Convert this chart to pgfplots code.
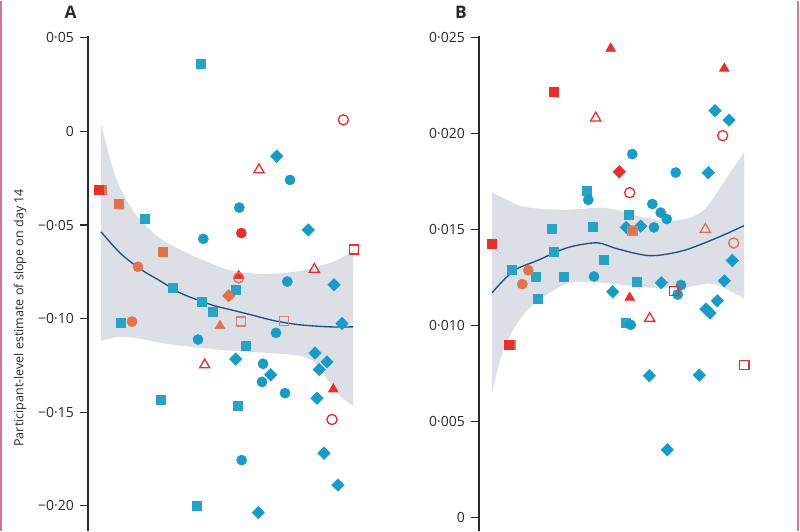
\documentclass[border=0pt]{standalone}
\usepackage{pgfplots}
\pgfplotsset{compat=1.18}
\usepgfplotslibrary{fillbetween}
\usepackage{fontspec}
\setmainfont{Open Sans}
\definecolor{teal}{HTML}{1A9BC6}
\definecolor{tealsq}{HTML}{27A3C3}
\definecolor{redm}{HTML}{E5302B}
\definecolor{salmon}{HTML}{E2714F}
\definecolor{palesal}{HTML}{CF8676}
\definecolor{bandgrey}{HTML}{DCE0E6}
\definecolor{linenavy}{HTML}{1F4F8F}
\definecolor{pinkb}{HTML}{C47A98}
\definecolor{axcol}{HTML}{2A2A2A}
\pgfplotsset{
  panel/.style={
    scale only axis, anchor=south west,
    axis y line*=left, hide x axis,
    tick align=outside, major tick length=6pt,
    ytick pos=left, scaled y ticks=false,
    axis line style={line width=1pt, axcol},
    ytick style={line width=0.9pt, axcol},
    yticklabel style={font=\fontsize{10.5}{12}\selectfont, text=axcol, xshift=-1pt},
    clip=false,
  },
  tsq/.style={only marks, mark=square*, mark size=3.4pt, mark options={fill=tealsq, draw=tealsq}},
  tci/.style={only marks, mark=*, mark size=3.8pt, mark options={fill=teal, draw=teal}},
  tdi/.style={only marks, mark=square*, mark size=3.3pt, mark options={fill=teal, draw=teal, rotate=45}},
  rci/.style={only marks, mark=*, mark size=3.8pt, mark options={fill=redm, draw=redm}},
  rocirc/.style={only marks, mark=o, mark size=3.8pt, mark options={draw=redm, line width=1pt}},
  rotri/.style={only marks, mark=triangle, mark size=4.4pt, mark options={draw=redm, line width=1pt}},
  rtri/.style={only marks, mark=triangle*, mark size=4.2pt, mark options={fill=redm, draw=redm}},
  rosq/.style={only marks, mark=square, mark size=3.4pt, mark options={draw=redm, line width=1pt}},
  rsq/.style={only marks, mark=square*, mark size=3.4pt, mark options={fill=redm, draw=redm}},
  rdi/.style={only marks, mark=square*, mark size=3.3pt, mark options={fill=redm, draw=redm, rotate=45}},
  ssq/.style={only marks, mark=square*, mark size=3.4pt, mark options={fill=salmon, draw=salmon}},
  sci/.style={only marks, mark=*, mark size=3.8pt, mark options={fill=salmon, draw=salmon}},
  socirc/.style={only marks, mark=o, mark size=3.8pt, mark options={draw=salmon, line width=1pt}},
  sdi/.style={only marks, mark=square*, mark size=3.3pt, mark options={fill=salmon, draw=salmon, rotate=45}},
  stri/.style={only marks, mark=triangle*, mark size=4.2pt, mark options={fill=salmon, draw=salmon}},
  sotri/.style={only marks, mark=triangle, mark size=4.4pt, mark options={draw=salmon, line width=1pt}},
  posq/.style={only marks, mark=square, mark size=3.4pt, mark options={draw=palesal, line width=1pt}},
}
\begin{document}
\begin{tikzpicture}
\path (0,0) rectangle (600pt,397.5pt);
\draw[pinkb, line width=1.2pt] (0.6pt,0) -- (0.6pt,397.5pt);
\draw[pinkb, line width=1.2pt] (598.6pt,0) -- (598.6pt,397.5pt);
\node[font=\fontsize{13}{15}\selectfont\bfseries, text=axcol] at (52.9pt,389pt) {A};
\node[font=\fontsize{13}{15}\selectfont\bfseries, text=axcol] at (345.8pt,389pt) {B};
\node[rotate=90, font=\fontsize{9.4}{11}\selectfont, text=axcol] at (15pt,159.75pt) {Participant-level estimate of slope on day 14};

% ---------------- Panel A ----------------
\begin{axis}[panel, at={(66pt,0pt)}, width=204pt, height=371.25pt,
  xmin=0, xmax=272, ymin=-0.21335, ymax=0.0511,
  ytick={-0.2,-0.15,-0.1,-0.05,0,0.05},
  yticklabels={−0·20,−0·15,−0·10,−0·05,0,0·05}]
\addplot[name path=Aup, draw=none, smooth] coordinates {
 (13,0.0041) (20,-0.0104) (29,-0.0264) (45,-0.0424) (62,-0.0526) (79,-0.0595)
 (112,-0.0681) (145,-0.0745) (179,-0.0761) (212,-0.0745) (242,-0.0702) (257,-0.0665) (265,-0.0638)};
\addplot[name path=Alo, draw=none, smooth] coordinates {
 (13,-0.1119) (32,-0.1097) (52,-0.1108) (79,-0.1135) (112,-0.1156) (145,-0.1172)
 (179,-0.1183) (212,-0.1199) (227,-0.1236) (239,-0.1322) (252,-0.1412) (265,-0.1466)};
\addplot[bandgrey] fill between[of=Aup and Alo];
% teal squares
\addplot[tsq] coordinates {(113,0.0360) (56.3,-0.0468) (85,-0.0834) (148,-0.0846) (113.7,-0.0909)
 (124.7,-0.0964) (32.7,-0.1021) (157.7,-0.1144) (72.7,-0.1434) (150,-0.1466) (108.3,-0.2002)};
% teal circles
\addplot[tci] coordinates {(202,-0.0259) (151.3,-0.0407) (115.3,-0.0574) (199.3,-0.0802) (110,-0.1112)
 (188,-0.1076) (175,-0.1241) (174,-0.1338) (197,-0.1398) (153.7,-0.1756)};
% teal diamonds
\addplot[tdi] coordinates {(188.7,-0.0132) (220.3,-0.0526) (246,-0.0819) (254,-0.1026) (227,-0.1184)
 (239,-0.1231) (231.3,-0.1272) (147.7,-0.1216) (182.7,-0.1300) (229,-0.1425) (236,-0.1719)
 (250,-0.1889) (170.3,-0.2036)};
% salmon
\addplot[ssq] coordinates {(14,-0.0314) (31,-0.0388) (75,-0.0643)};
\addplot[rsq] coordinates {(10.5,-0.0314)};
\addplot[sci] coordinates {(50,-0.0723) (44,-0.1016)};
\addplot[sdi] coordinates {(140.7,-0.0878)};
\addplot[stri] coordinates {(132,-0.1038)};
\addplot[posq] coordinates {(153,-0.1016) (195.7,-0.1012)};
% red
\addplot[rci] coordinates {(153.3,-0.0543)};
\addplot[rtri] coordinates {(150.7,-0.0771) (245.3,-0.1377)};
\addplot[socirc] coordinates {(150.7,-0.0782)};
\addplot[rocirc] coordinates {(255.3,0.0062) (244,-0.1539)};
\addplot[rotri] coordinates {(171,-0.0205) (226.3,-0.0737) (116.7,-0.1247)};
\addplot[rosq] coordinates {(266,-0.0631)};
% fitted line
\addplot[linenavy, line width=1pt, smooth] coordinates {
 (13,-0.0536) (32,-0.0649) (52,-0.0734) (72,-0.0798) (92,-0.0862) (112,-0.0905) (127,-0.0932)
 (147,-0.0958) (167,-0.0985) (187,-0.1012) (212,-0.1033) (242,-0.1044) (265,-0.1044)};
\end{axis}

% ---------------- Panel B ----------------
\begin{axis}[panel, at={(359.25pt,0pt)}, width=214.5pt, height=371.25pt,
  xmin=0, xmax=286, ymin=-0.000677, ymax=0.0251,
  ytick={0,0.005,0.01,0.015,0.02,0.025},
  yticklabels={0,0·005,0·010,0·015,0·020,0·025}]
\addplot[name path=Bup, draw=none, smooth] coordinates {
 (13,0.01693) (26,0.01661) (41,0.01625) (61,0.01609) (88,0.01604) (121,0.01615) (141,0.01599)
 (161,0.01568) (188,0.01547) (211,0.01563) (226,0.01609) (238,0.01693) (251,0.01797) (265,0.01901)};
\addplot[name path=Blo, draw=none, smooth] coordinates {
 (13,0.00651) (21,0.00818) (31,0.00948) (46,0.01068) (66,0.01156) (88,0.01219) (111,0.01229)
 (141,0.01214) (171,0.01198) (204,0.01198) (231,0.01219) (251,0.01182) (265,0.01141)};
\addplot[bandgrey] fill between[of=Bup and Blo];
% teal squares
\addplot[tsq] coordinates {(107.7,0.01703) (149.7,0.01578) (72.7,0.01504) (113.3,0.01514) (75,0.01384)
 (124.3,0.01344) (32.7,0.01293) (56.3,0.01255) (84.7,0.01255) (157.3,0.01229) (58.7,0.01139) (147,0.01014)};
% teal circles
\addplot[tci] coordinates {(153.3,0.01894) (196.7,0.01798) (109.3,0.01656) (173.3,0.01634) (181.7,0.01589)
 (187.7,0.01556) (175,0.01512) (115,0.01257) (202,0.01212) (198.7,0.01163) (151.7,0.01005)};
% teal diamonds
\addplot[tdi] coordinates {(236,0.02120) (250,0.02071) (229.3,0.01797) (147.3,0.01512) (161.7,0.01519)
 (253.3,0.01340) (133.7,0.01177) (182.3,0.01224) (245.3,0.01234) (238.3,0.01130) (227,0.01087)
 (231,0.01066) (170.3,0.00740) (220.3,0.00743) (188.3,0.00354)};
% salmon
\addplot[ssq] coordinates {(32,0.00900)};
\addplot[sci] coordinates {(49.3,0.01289) (43.3,0.01217) (153.3,0.01495)};
\addplot[posq] coordinates {(153.3,0.01495)};
\addplot[sotri] coordinates {(226.3,0.01502)};
\addplot[socirc] coordinates {(254.7,0.01431)};
% red
\addplot[rsq] coordinates {(74.7,0.02220) (12.7,0.01426) (30,0.00903)};
\addplot[rtri] coordinates {(131.7,0.02444) (245.3,0.02340) (150.7,0.01147)};
\addplot[rotri] coordinates {(116.7,0.02082) (170.7,0.01038)};
\addplot[rocirc] coordinates {(243.7,0.01990) (150.7,0.01693)};
\addplot[rdi] coordinates {(140.3,0.01802)};
\addplot[rosq] coordinates {(195,0.01181) (265.3,0.00795)};
% fitted line
\addplot[linenavy, line width=1pt, smooth] coordinates {
 (13,0.01172) (26,0.01245) (38,0.01297) (58,0.01339) (88,0.01406) (118,0.01432) (138,0.01401)
 (171,0.01365) (204,0.01391) (238,0.01458) (265,0.01521)};
\end{axis}
\end{tikzpicture}
\end{document}
